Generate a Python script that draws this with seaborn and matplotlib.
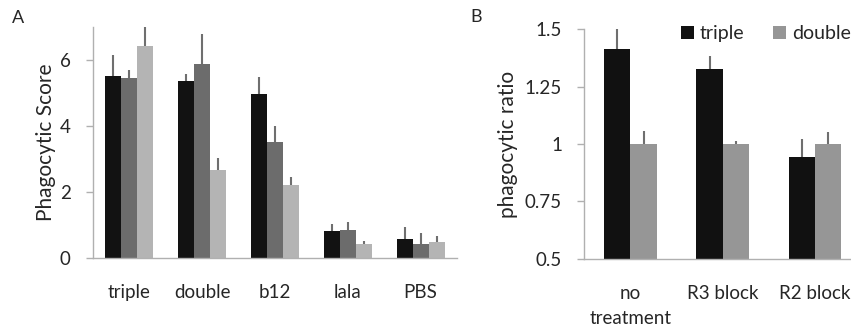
import numpy as np
import pandas as pd
import matplotlib
matplotlib.use("Agg")
import matplotlib.pyplot as plt
import seaborn as sns

# ---- panel A data ----
groups_a = ["triple", "double", "b12", "lala", "PBS"]
series_a = ["s1", "s2", "s3"]
vals_s1 = [5.52, 5.35, 4.98, 0.81, 0.58]
vals_s2 = [5.44, 5.87, 3.53, 0.84, 0.42]
vals_s3 = [6.42, 2.68, 2.20, 0.43, 0.49]
err_s1 = [0.62, 0.23, 0.51, 0.23, 0.37]
err_s2 = [0.25, 0.92, 0.47, 0.25, 0.33]
err_s3 = [0.60, 0.35, 0.24, 0.10, 0.19]

# ---- panel B data ----
groups_b = ["no\ntreatment", "R3 block", "R2 block"]
series_b = ["triple", "double"]
vals_triple = [1.413, 1.327, 0.943]
vals_double = [1.0, 1.0, 1.0]
err_triple = [0.09, 0.058, 0.077]
err_double = [0.055, 0.012, 0.052]

sns.set_style("white")
plt.rcParams["font.family"] = ["Lato", "DejaVu Sans"]

axis_col = "#b0b0b0"
err_col = "#6f6f6f"

df_a = pd.DataFrame({
    "group": groups_a * 3,
    "series": np.repeat(series_a, len(groups_a)),
    "value": vals_s1 + vals_s2 + vals_s3,
})
errs_a = [err_s1, err_s2, err_s3]

df_b = pd.DataFrame({
    "group": groups_b * 2,
    "series": np.repeat(series_b, len(groups_b)),
    "value": vals_triple + vals_double,
})
errs_b = [err_triple, err_double]

fig = plt.figure(figsize=(8.51, 3.31), dpi=100)
ax_a = fig.add_axes([93 / 851, 1 - 258 / 331, (457 - 93) / 851, (258 - 27) / 331])
ax_b = fig.add_axes([584.3 / 851, 1 - 258.7 / 331, (861 - 584.3) / 851, (258.7 - 29.3) / 331])


def draw_panel(ax, df, errs, groups, palette, width, bottom, top):
    sns.barplot(data=df, x="group", y="value", hue="series", palette=palette,
                width=width, errorbar=None, linewidth=0, ax=ax, legend=True)
    for cont, err in zip(ax.containers, errs):
        xs = [b.get_x() + b.get_width() / 2 for b in cont]
        hs = [b.get_height() for b in cont]
        ax.errorbar(xs, hs, yerr=[np.zeros(len(err)), err], fmt="none",
                    ecolor=err_col, elinewidth=1.5, capsize=0, zorder=1)
    ax.set_ylim(bottom, top)
    ax.set_xlim(-0.5, len(groups) - 0.5)
    ax.set_xlabel("")
    sns.despine(ax=ax)
    for s in ["left", "bottom"]:
        ax.spines[s].set_color(axis_col)
        ax.spines[s].set_linewidth(1.0)
    ax.set_xticks(np.arange(len(groups)))
    ax.set_xticklabels(groups, fontsize=13.5, linespacing=1.55)
    ax.set_xticks(np.arange(len(groups)) - 0.5, minor=True)
    ax.tick_params(axis="x", which="major", length=0, pad=19)
    ax.tick_params(axis="x", which="minor", length=6, width=1, color=axis_col, direction="out")
    ax.tick_params(axis="y", length=5, width=1, color=axis_col, direction="out",
                   labelsize=13.5, pad=11, left=True)


draw_panel(ax_a, df_a, errs_a, groups_a, ["#121212", "#6c6c6c", "#b4b4b4"], 0.66, 0, 7)
ax_a.set_yticks([0, 2, 4, 6])
ax_a.set_ylabel("Phagocytic Score", fontsize=15, labelpad=3)
ax_a.get_legend().remove()

draw_panel(ax_b, df_b, errs_b, groups_b, ["#111111", "#969696"], 0.57, 0.5, 1.5)
ax_b.set_yticks([0.5, 0.75, 1.0, 1.25, 1.5])
ax_b.set_yticklabels(["0.5", "0.75", "1", "1.25", "1.5"])
ax_b.set_ylabel("phagocytic ratio", fontsize=15, labelpad=5)
ax_b.get_legend().remove()
handles, labels = ax_b.get_legend_handles_labels()
fig.legend(handles[:2], series_b, loc="upper left",
           bbox_to_anchor=(681 / 851, 1 - 25 / 331), ncol=2, frameon=False,
           fontsize=14, handlelength=0.65, handleheight=0.65,
           handletextpad=0.3, columnspacing=1.5, borderpad=0, borderaxespad=0)

fig.text(12 / 851, 1 - 18 / 331, "A", fontsize=13, va="center", ha="left")
fig.text(470 / 851, 1 - 17 / 331, "B", fontsize=13, va="center", ha="left")

fig.savefig("out.png", dpi=100)
